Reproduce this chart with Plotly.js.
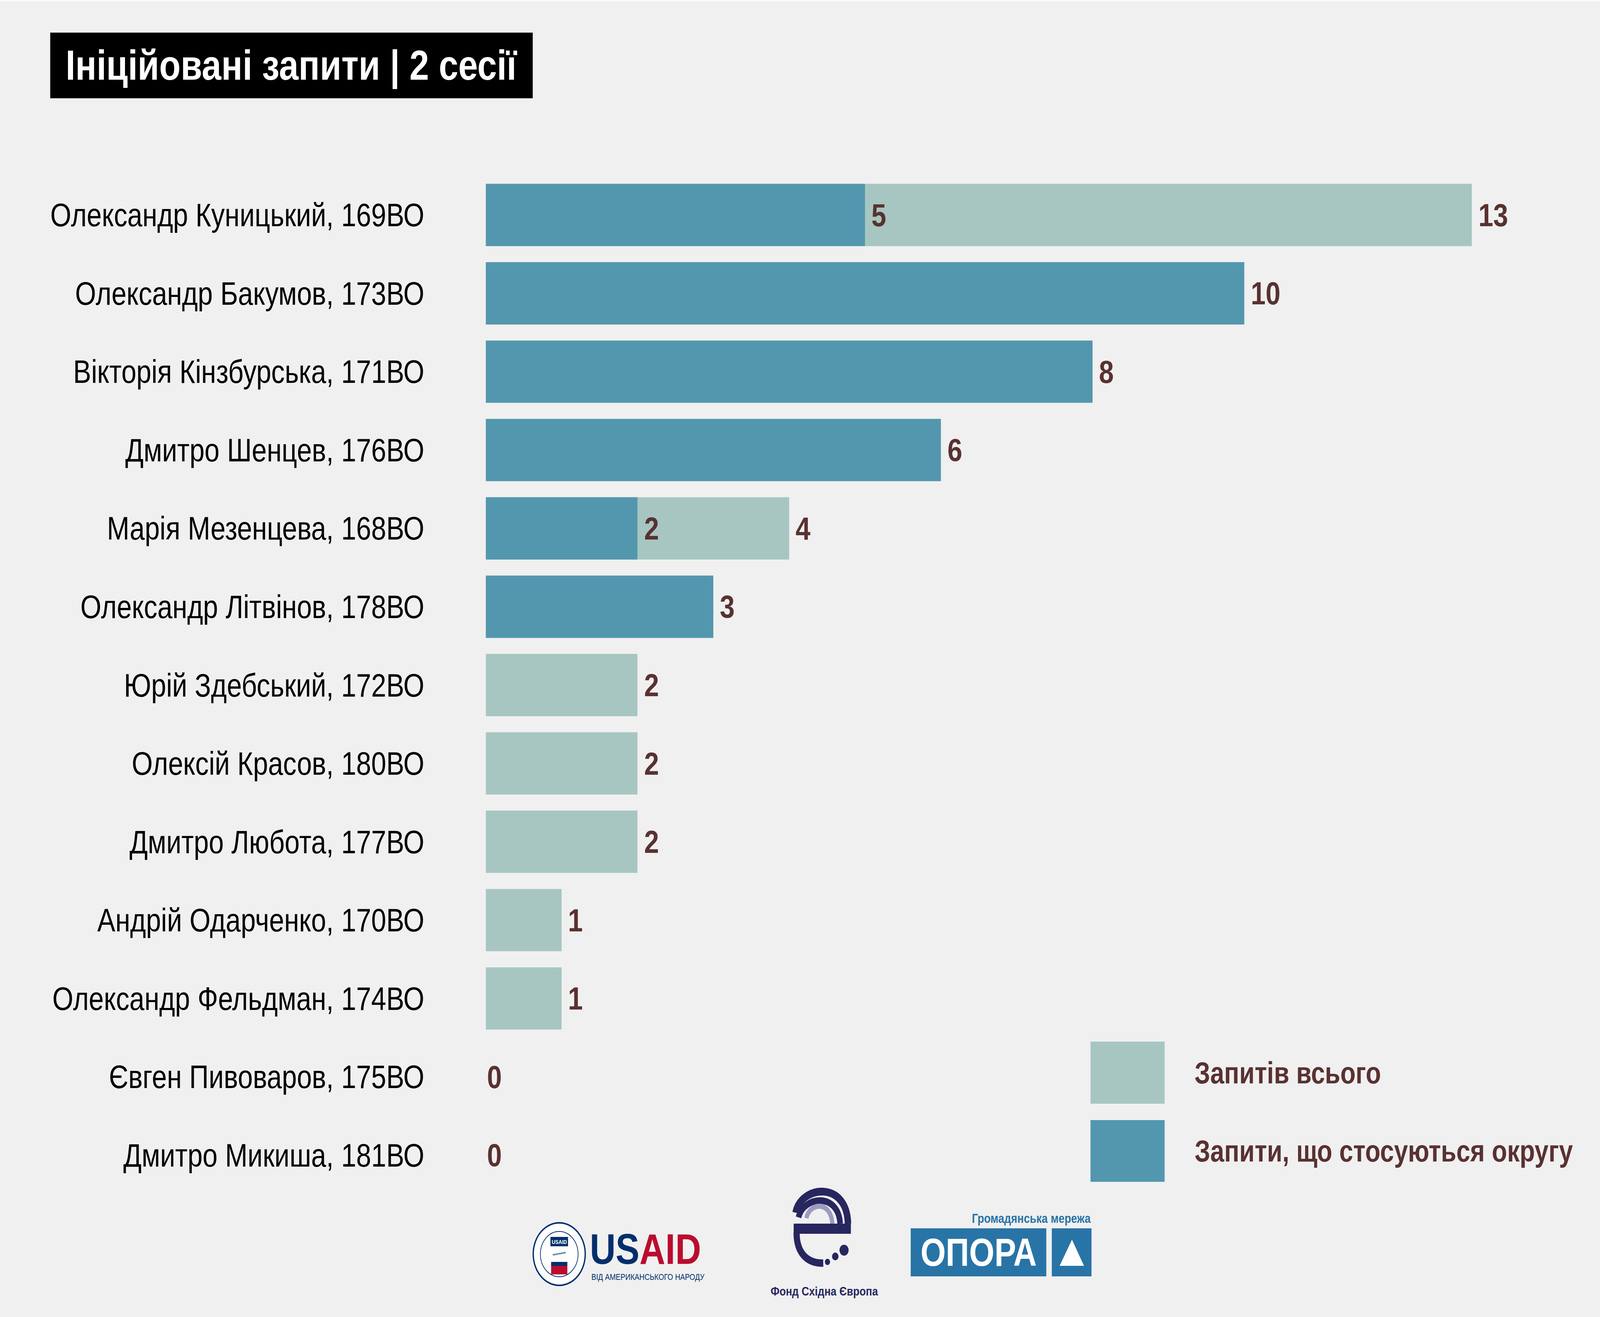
<!DOCTYPE html>
<html>
<head>
<meta charset="utf-8">
<script src="https://cdn.plot.ly/plotly-3.0.1.min.js"></script>
<style>
html, body { margin: 0; padding: 0; background: #f0f0f0; overflow: hidden; }
#chart { width: 4921px; height: 3371px; transform-origin: 0 0; }
</style>
</head>
<body>
<div id="chart"></div>
<script>
// data
var deputies = [
    'Олександр Куницький, 169ВО',
    'Олександр Бакумов, 173ВО',
    'Вікторія Кінзбурська, 171ВО',
    'Дмитро Шенцев, 176ВО',
    'Марія Мезенцева, 168ВО',
    'Олександр Літвінов, 178ВО',
    'Юрій Здебський, 172ВО',
    'Олексій Красов, 180ВО',
    'Дмитро Любота, 177ВО',
    'Андрій Одарченко, 170ВО',
    'Олександр Фельдман, 174ВО',
    'Євген Пивоваров, 175ВО',
    'Дмитро Микиша, 181ВО'
];
var totalRequests    = [13, 10, 8, 6, 4, 3, 2, 2, 2, 1, 1, 0, 0];
var districtRequests = [5, 10, 8, 6, 2, 3, 0, 0, 0, 0, 0, 0, 0];
var seriesNames = ['Запитів всього', 'Запити, що стосуються округу'];
var chartTitle = 'Ініційовані запити | 2 сесії';

var W = 4921, H = 3371;
var margin = {l: 1494, r: 161, t: 450, b: 314};
// pixel -> paper helpers for the decorations (title box, legend, logos)
function px(x) { return (x - margin.l) / (W - margin.l - margin.r); }
function py(y) { return (H - margin.b - y) / (H - margin.t - margin.b); }
function pt(x, y) { return px(x) + ',' + py(y); }

var SANS = '"Liberation Sans", Arial, sans-serif';
var LIGHT = '#A7C6C1', DARK = '#5397AF', VALUE = '#593131';
var NAVY = '#27265F', OPORA = '#2874A6';

var traces = [
    {
        type: 'bar', orientation: 'h', name: seriesNames[0],
        y: deputies, x: totalRequests,
        marker: {color: LIGHT}, hoverinfo: 'none'
    },
    {
        type: 'bar', orientation: 'h', name: seriesNames[1],
        y: deputies, x: districtRequests,
        marker: {color: DARK}, hoverinfo: 'none'
    }
];

var valueFont = {family: SANS, size: 82, color: VALUE, weight: 'bold'};
var annotations = [];
deputies.forEach(function(d, i) {
    annotations.push({
        xref: 'x', yref: 'y', x: totalRequests[i], y: d,
        text: String(totalRequests[i]), showarrow: false,
        xanchor: 'left', yanchor: 'middle',
        xshift: totalRequests[i] > 0 ? 18 : 2, font: valueFont
    });
    if (districtRequests[i] > 0 && districtRequests[i] < totalRequests[i]) {
        annotations.push({
            xref: 'x', yref: 'y', x: districtRequests[i], y: d,
            text: String(districtRequests[i]), showarrow: false,
            xanchor: 'left', yanchor: 'middle', xshift: 18, font: valueFont
        });
    }
});

// title box
annotations.push({
    xref: 'paper', yref: 'paper', x: px(154), y: py(83),
    xanchor: 'left', yanchor: 'top', width: 1483, height: 167,
    bgcolor: '#000000', borderpad: 0, showarrow: false,
    align: 'center', valign: 'middle', text: chartTitle,
    font: {family: SANS, size: 108, color: '#ffffff', weight: 'bold'}
});

// legend
var legendFont = {family: SANS, size: 77, color: VALUE, weight: 'bold'};
annotations.push({xref: 'paper', yref: 'paper', x: px(3672), y: py(2746),
    xanchor: 'left', yanchor: 'middle', showarrow: false, text: seriesNames[0], font: legendFont});
annotations.push({xref: 'paper', yref: 'paper', x: px(3672), y: py(2946),
    xanchor: 'left', yanchor: 'middle', showarrow: false, text: seriesNames[1], font: legendFont});

// logo texts
annotations.push({xref: 'paper', yref: 'paper', x: px(1812), y: py(3196),
    xanchor: 'left', yanchor: 'middle', showarrow: false,
    text: '<span style="color:#002F6C">US</span><span style="color:#BA0C2F">AID</span>',
    font: {family: SANS, size: 110, weight: 'bold'}});
annotations.push({xref: 'paper', yref: 'paper', x: px(1817), y: py(3268),
    xanchor: 'left', yanchor: 'middle', showarrow: false,
    text: 'ВІД АМЕРИКАНСЬКОГО НАРОДУ',
    font: {family: SANS, size: 22, color: '#002F6C'}});
annotations.push({xref: 'paper', yref: 'paper', x: px(1720), y: py(3178),
    xanchor: 'center', yanchor: 'middle', showarrow: false, text: 'USAID',
    font: {family: SANS, size: 15, color: '#ffffff', weight: 'bold'}});
annotations.push({xref: 'paper', yref: 'paper', x: px(2535), y: py(3305),
    xanchor: 'center', yanchor: 'middle', showarrow: false, text: 'Фонд Східна Європа',
    font: {family: SANS, size: 32, color: NAVY, weight: 'bold'}});
annotations.push({xref: 'paper', yref: 'paper', x: px(3357), y: py(3119),
    xanchor: 'right', yanchor: 'middle', showarrow: false, text: 'Громадянська мережа',
    font: {family: SANS, size: 33, color: OPORA, weight: 'bold'}});
annotations.push({xref: 'paper', yref: 'paper', x: px(3010), y: py(3205),
    xanchor: 'center', yanchor: 'middle', showarrow: false, text: 'ОПОРА',
    font: {family: SANS, size: 100, color: '#ffffff', weight: 'bold'}});

function rect(x0, y0, x1, y1, color) {
    return {type: 'rect', xref: 'paper', yref: 'paper', x0: px(x0), x1: px(x1),
        y0: py(y1), y1: py(y0), fillcolor: color, line: {width: 0}, layer: 'above'};
}
function circle(cx, cy, r, fill, lineColor, lw) {
    return {type: 'circle', xref: 'paper', yref: 'paper', x0: px(cx - r), x1: px(cx + r),
        y0: py(cy + r), y1: py(cy - r), fillcolor: fill,
        line: {color: lineColor || fill, width: lw || 0}, layer: 'above'};
}
function stroke(d, color, w) {
    return {type: 'path', xref: 'paper', yref: 'paper', path: d,
        line: {color: color, width: w}, layer: 'above'};
}

var shapes = [
    // thin light frame line at the top edge
    rect(0, 0, W, 4, '#fafafa'),
    // legend swatches
    rect(3354, 2666, 3582, 2825, LIGHT),
    rect(3354, 2867, 3582, 3025, DARK),
    // USAID seal
    circle(1720, 3210, 80, '#ffffff', '#002F6C', 4),
    circle(1720, 3210, 58, 'rgba(0,0,0,0)', '#002F6C', 2),
    rect(1693, 3166, 1747, 3190, '#002F6C'),
    rect(1695, 3230, 1745, 3240, '#002F6C'),
    rect(1695, 3240, 1745, 3262, '#BA0C2F'),
    stroke('M' + pt(1700, 3212) + ' L' + pt(1740, 3206), '#7A8DB0', 4),
    // Фонд Східна Європа mark
    stroke('M' + pt(2447, 3104) + ' C' + pt(2462, 3035) + ' ' + pt(2605, 3020) + ' ' + pt(2608, 3132), NAVY, 20),
    stroke('M' + pt(2456, 3116) + ' C' + pt(2470, 3062) + ' ' + pt(2578, 3050) + ' ' + pt(2584, 3132), NAVY, 17),
    stroke('M' + pt(2480, 3118) + ' C' + pt(2490, 3078) + ' ' + pt(2555, 3072) + ' ' + pt(2560, 3132), '#9D9BC0', 13),
    rect(2441, 3132, 2617, 3158, NAVY),
    stroke('M' + pt(2450, 3155) + ' C' + pt(2450, 3212) + ' ' + pt(2488, 3234) + ' ' + pt(2532, 3233), NAVY, 19),
    circle(2545, 3230, 8, NAVY),
    circle(2569, 3216, 10, NAVY),
    circle(2596, 3200, 14, NAVY),
    // ОПОРА
    rect(2801, 3144, 3218, 3267, OPORA),
    rect(3235, 3144, 3357, 3267, OPORA),
    {type: 'path', xref: 'paper', yref: 'paper',
        path: 'M' + pt(3297, 3173) + ' L' + pt(3334, 3240) + ' L' + pt(3259, 3240) + ' Z',
        fillcolor: '#ffffff', line: {width: 0}, layer: 'above'}
];

var layout = {
    width: W, height: H,
    margin: margin,
    paper_bgcolor: '#f0f0f0',
    plot_bgcolor: '#f0f0f0',
    barmode: 'overlay',
    bargap: 0.205,
    showlegend: false,
    xaxis: {range: [0, 14], visible: false, fixedrange: true},
    yaxis: {
        type: 'category', autorange: false, range: [12.5, -0.5],
        showgrid: false, zeroline: false, showline: false, ticks: '',
        ticklabelstandoff: 188,
        tickfont: {family: SANS, size: 83, color: '#000000'}
    },
    annotations: annotations,
    shapes: shapes
};

document.addEventListener('DOMContentLoaded', function() {
    // the window may be narrower than the 4921px design; squeeze to fit
    var sx = Math.min(1, window.innerWidth / W);
    var sy = Math.min(1, window.innerHeight / H);
    document.getElementById('chart').style.transform = 'scale(' + sx + ',' + sy + ')';
    Plotly.newPlot('chart', traces, layout, {staticPlot: true});
});
</script>
</body>
</html>
